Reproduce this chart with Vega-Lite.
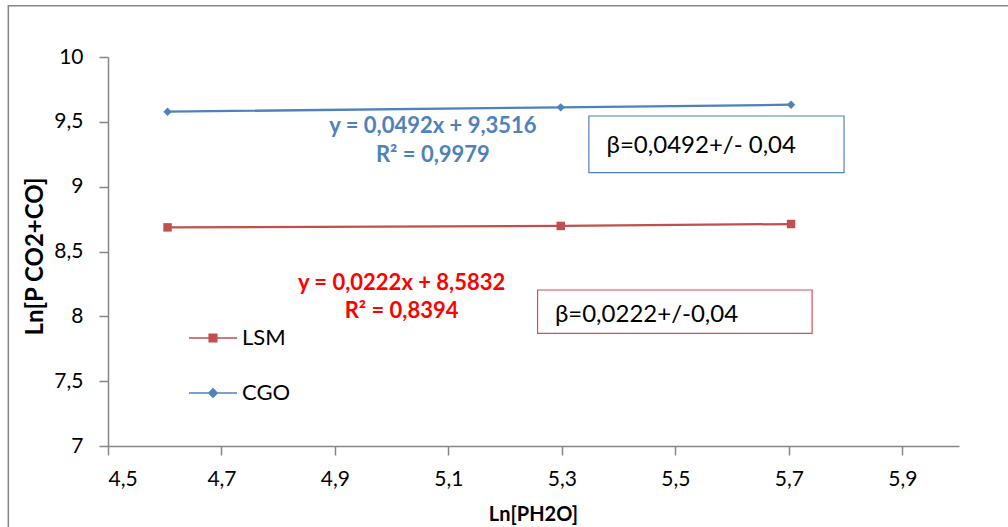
{
  "$schema": "https://vega.github.io/schema/vega-lite/v6.json",
  "width": 851,
  "height": 389,
  "autosize": "none",
  "padding": {"left": 108, "top": 57, "right": 49, "bottom": 81},
  "background": "white",
  "config": {"view": {"stroke": null}, "font": "Lato"},
  "datasets": {
    "main": [
      {"x": 4.605, "y": 8.686, "series": "LSM"},
      {"x": 5.298, "y": 8.697, "series": "LSM"},
      {"x": 5.704, "y": 8.712, "series": "LSM"},
      {"x": 4.605, "y": 9.578, "series": "CGO"},
      {"x": 5.298, "y": 9.612, "series": "CGO"},
      {"x": 5.704, "y": 9.632, "series": "CGO"}
    ],
    "labels": [
      {"series": "CGO", "kind": "eq", "x": 5.0727, "y": 9.414, "text": "y = 0,0492x + 9,3516"},
      {"series": "CGO", "kind": "eq", "x": 5.0727, "y": 9.193, "text": "R² = 0,9979"},
      {"series": "LSM", "kind": "eq", "x": 5.0175, "y": 8.203, "text": "y = 0,0222x + 8,5832"},
      {"series": "LSM", "kind": "eq", "x": 5.0175, "y": 7.985, "text": "R² = 0,8394"},
      {"series": "CGO", "kind": "beta", "x": 5.3788, "y": 9.262, "text": "β=0,0492+/- 0,04"},
      {"series": "LSM", "kind": "beta", "x": 5.2877, "y": 7.9587, "text": "β=0,0222+/-0,04"}
    ],
    "boxes": [
      {"series": "CGO", "x": 5.3476, "x2": 5.7974, "y": 9.545, "y2": 9.1077},
      {"series": "LSM", "x": 5.2572, "x2": 5.7411, "y": 8.2031, "y2": 7.8692}
    ],
    "frame": [
      {"x": 4.3243, "x2": 6.1, "y": 10.3956, "y2": 6.3}
    ]
  },
  "layer": [
    {
      "data": {"name": "main"},
      "mark": {"type": "line", "strokeWidth": 2.25},
      "encoding": {
        "x": {
          "field": "x", "type": "quantitative",
          "scale": {"domain": [4.5, 6.0], "nice": false, "zero": false},
          "axis": {
            "title": "Ln[PH2O]",
            "values": [4.5, 4.7, 4.9, 5.1, 5.3, 5.5, 5.7, 5.9],
            "labelExpr": "replace(format(datum.value, '.1f'), '.', ',')",
            "grid": false,
            "domainColor": "#868686", "domainWidth": 1.5,
            "tickColor": "#868686", "tickWidth": 1.5, "tickSize": 9,
            "labelFont": "Lato", "labelFontSize": 21, "labelColor": "#000000", "labelPadding": 13,
            "titleFont": "Lato", "titleFontSize": 20, "titleFontWeight": "bold", "titleColor": "#000000",
            "titleX": 425, "titleY": 74, "titleBaseline": "alphabetic", "titleAlign": "center"
          }
        },
        "y": {
          "field": "y", "type": "quantitative",
          "scale": {"domain": [7, 10], "nice": false, "zero": false},
          "axis": {
            "title": "Ln[P CO2+CO]",
            "values": [7, 7.5, 8, 8.5, 9, 9.5, 10],
            "labelExpr": "replace(toString(datum.value), '.', ',')",
            "grid": false,
            "domainColor": "#868686", "domainWidth": 1.5,
            "tickColor": "#868686", "tickWidth": 1.5, "tickSize": 9,
            "labelFont": "Lato", "labelFontSize": 21, "labelColor": "#000000", "labelPadding": 16,
            "titleFont": "Lato", "titleFontSize": 24, "titleFontWeight": "bold", "titleColor": "#000000",
            "titleX": -66, "titleY": 199, "titleBaseline": "alphabetic", "titleAngle": 270, "titleAlign": "center"
          }
        },
        "color": {
          "field": "series", "type": "nominal",
          "scale": {"domain": ["LSM", "CGO"], "range": ["#C0504D", "#4F81BD"]},
          "legend": {
            "orient": "none", "legendX": 81, "legendY": 257, "title": null,
            "symbolSize": 2304, "symbolStrokeWidth": 0,
            "labelFont": "Lato", "labelFontSize": 22, "labelColor": "#000000", "labelOffset": 5,
            "rowPadding": 20, "padding": 0,
            "encode": {
              "symbols": {
                "update": {
                  "shape": {"signal": "datum.value === 'LSM' ? 'M-1,-0.031H1V0.031H-1Z M-0.19,-0.19H0.19V0.19H-0.19Z' : 'M-1,-0.031H1V0.031H-1Z M0,-0.22L0.22,0L0,0.22L-0.22,0Z'"},
                  "fill": {"scale": "color", "field": "value"},
                  "stroke": {"value": "transparent"},
                  "opacity": {"value": 1}
                }
              },
              "labels": {
                "update": {
                  "fontSize": {"value": 22}
                }
              }
            }
          }
        }
      }
    },
    {
      "data": {"name": "main"},
      "transform": [{"filter": "datum.series === 'LSM'"}],
      "mark": {"type": "point", "filled": true, "opacity": 1, "shape": "square", "size": 72},
      "encoding": {
        "x": {"field": "x", "type": "quantitative"},
        "y": {"field": "y", "type": "quantitative"},
        "color": {"field": "series", "type": "nominal"}
      }
    },
    {
      "data": {"name": "main"},
      "transform": [{"filter": "datum.series === 'CGO'"}],
      "mark": {"type": "point", "filled": true, "opacity": 1, "shape": "diamond", "size": 70},
      "encoding": {
        "x": {"field": "x", "type": "quantitative"},
        "y": {"field": "y", "type": "quantitative"},
        "color": {"field": "series", "type": "nominal"}
      }
    },
    {
      "data": {"name": "boxes"},
      "transform": [{"filter": "datum.series === 'CGO'"}],
      "mark": {"type": "rect", "fill": "white", "stroke": "#4F81BD", "strokeWidth": 1.2},
      "encoding": {
        "x": {"field": "x", "type": "quantitative"},
        "x2": {"field": "x2"},
        "y": {"field": "y", "type": "quantitative"},
        "y2": {"field": "y2"}
      }
    },
    {
      "data": {"name": "boxes"},
      "transform": [{"filter": "datum.series === 'LSM'"}],
      "mark": {"type": "rect", "fill": "white", "stroke": "#D05050", "strokeWidth": 1.2},
      "encoding": {
        "x": {"field": "x", "type": "quantitative"},
        "x2": {"field": "x2"},
        "y": {"field": "y", "type": "quantitative"},
        "y2": {"field": "y2"}
      }
    },
    {
      "data": {"name": "labels"},
      "transform": [{"filter": "datum.kind === 'eq' && datum.series === 'CGO'"}],
      "mark": {"type": "text", "font": "Lato", "fontSize": 22, "fontWeight": "bold", "color": "#4F81BD", "align": "center", "baseline": "alphabetic"},
      "encoding": {
        "x": {"field": "x", "type": "quantitative"},
        "y": {"field": "y", "type": "quantitative"},
        "text": {"field": "text"}
      }
    },
    {
      "data": {"name": "labels"},
      "transform": [{"filter": "datum.kind === 'eq' && datum.series === 'LSM'"}],
      "mark": {"type": "text", "font": "Lato", "fontSize": 22, "fontWeight": "bold", "color": "#FF0000", "align": "center", "baseline": "alphabetic"},
      "encoding": {
        "x": {"field": "x", "type": "quantitative"},
        "y": {"field": "y", "type": "quantitative"},
        "text": {"field": "text"}
      }
    },
    {
      "data": {"name": "labels"},
      "transform": [{"filter": "datum.kind === 'beta'"}],
      "mark": {"type": "text", "font": "Lato", "fontSize": 24, "color": "#000000", "align": "left", "baseline": "alphabetic"},
      "encoding": {
        "x": {"field": "x", "type": "quantitative"},
        "y": {"field": "y", "type": "quantitative"},
        "text": {"field": "text"}
      }
    },
    {
      "data": {"name": "frame"},
      "mark": {"type": "rect", "fill": null, "fillOpacity": 0, "stroke": "#868686", "strokeWidth": 1.5},
      "encoding": {
        "x": {"field": "x", "type": "quantitative"},
        "x2": {"field": "x2"},
        "y": {"field": "y", "type": "quantitative"},
        "y2": {"field": "y2"}
      }
    }
  ]
}
